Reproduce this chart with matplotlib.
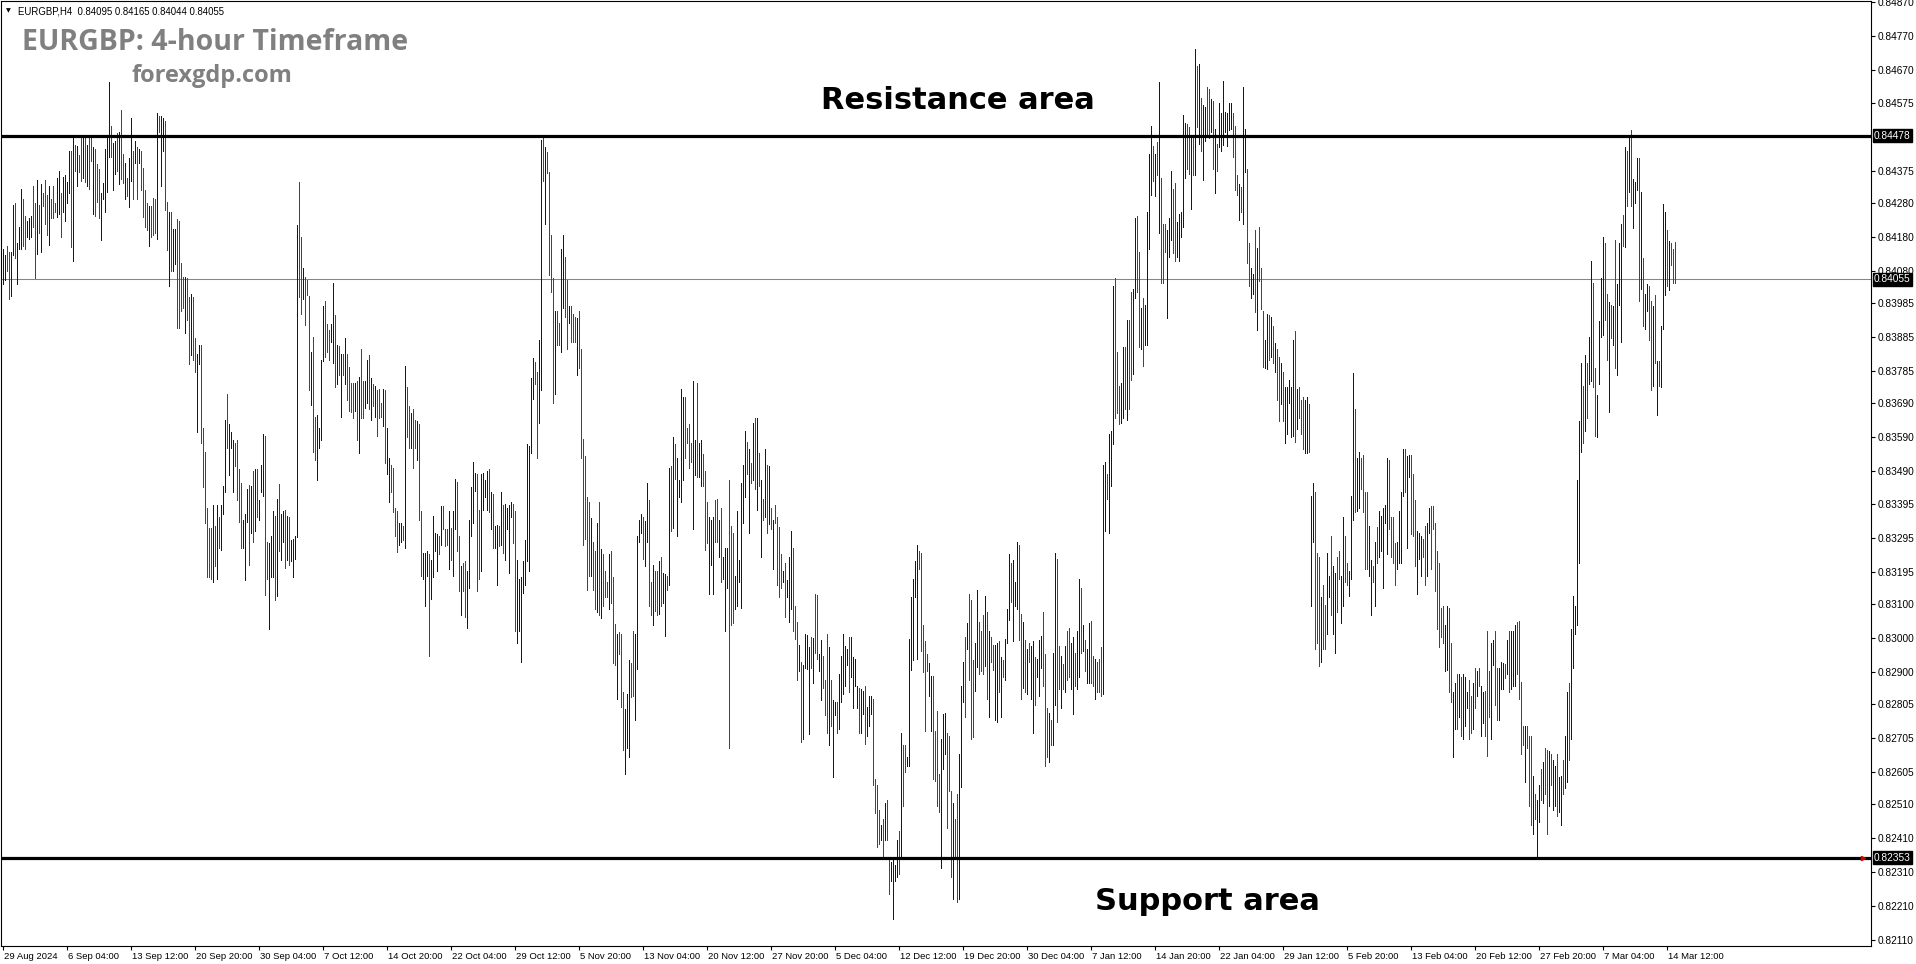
import numpy as np
import matplotlib
matplotlib.use("Agg")
import matplotlib.pyplot as plt
import matplotlib.transforms as mtransforms

# ---------------- data (prices in 1e-5 units) ----------------
bar_high = [
    # 29 Aug - early Oct
    84145,84127,84154,84136,84136,84275,84281,84163,84208,84322,
    84290,84241,84226,84235,84241,84330,84281,84347,84275,84335,
    84308,84347,84302,84330,84290,84330,84281,84353,84375,84308,
    84356,84362,84340,84434,84434,84471,84449,84447,84420,84471,
    84471,84471,84449,84476,84476,84443,84438,84393,84380,84308,
    84338,84438,84471,84635,84507,84456,84462,84485,84489,84553,
    84425,84398,84353,84411,84529,84434,84462,84443,84438,84434,
    84384,84317,84281,84272,84272,84293,84290,84544,84535,84535,
    84529,84522,84284,84253,84253,84204,84202,84232,84226,84103,
    84063,84063,84060,84004,84013,84004,83881,83836,83863,83863,
    83619,83547,83383,83323,83323,83392,83328,83392,83355,83392,
    83447,83641,83718,83628,83606,83583,83574,83583,83498,83456,
    83346,83364,83437,83450,83447,83492,83498,83498,83406,83510,
    83601,83595,83283,83280,83301,83374,83359,83410,83452,83364,
    83374,83377,83359,83355,83287,83292,83301,84214,84340,84181,
    84087,84063,84054,84005,83842,83885,83649,83655,83619,83818,
    83978,83991,83923,83905,83923,84045,83950,83863,83858,83836,
    83836,83881,83836,83796,83751,83751,83751,83755,83767,83851,
    83755,83755,83818,83833,83764,83746,83740,83728,83733,83691,
    83733,83728,83619,83528,83510,83501,83383,83374,
    # Oct - Nov
    83337,83337,83328,83800,83737,83682,83661,83673,83640,83637,
    83628,83374,83251,83251,83256,83247,83229,83359,83310,83305,
    83301,83388,83388,83319,83319,83374,83323,83374,83469,83459,
    83301,83211,83220,83225,83198,83346,83443,83519,83486,83483,
    83377,83483,83486,83465,83492,83496,83428,83423,83328,83332,
    83328,83428,83392,83395,83383,83392,83401,83395,83374,83229,
    83174,83178,83225,83287,83570,83565,83764,83824,83813,83782,
    83876,84465,84476,84443,84429,84371,84185,84058,83963,83963,
    83927,84145,84186,84121,84054,83976,83976,83954,83945,83941,
    83963,83851,83586,83534,83414,83401,83352,83283,83256,83337,
    83401,83261,83247,83196,83165,83247,83256,83178,83042,83012,
    83017,83012,82840,82790,82836,82934,82926,83021,83012,83301,
    83346,83364,83355,83343,83456,83406,83165,83214,83198,83198,
    83225,83238,83192,83189,83183,83501,83507,83592,83570,83528,
    83465,83733,83710,83710,83619,83628,83574,83755,83583,83751,
    83574,83583,83541,83492,83401,83355,83346,83355,83406,83410,
    83346,83383,83238,83265,83265,83465,83328,83310,83183,83374,
    83229,83456,83510,83610,83577,83556,83516,83631,83646,83646,
    83543,83465,83410,83556,83510,83507,83383,83346,83392,83355,
    # Nov - Jan
    83326,83247,83196,83220,83171,83238,83315,83265,83093,83048,
    82979,82930,82921,83012,83008,82972,83003,82999,83129,83126,
    82953,82994,82948,82876,83012,82972,82876,82818,82812,82812,
    82894,82948,83012,82975,82966,83003,83003,82943,82939,82858,
    82852,82849,82845,82858,82798,82830,82830,82821,82585,82567,
    82495,82450,82468,82513,82522,82350,82341,82350,82332,82404,
    82432,82721,82685,82685,82649,82997,83120,83174,83225,83274,
    83256,83251,83039,82990,82953,82926,82888,82888,82725,82785,
    82599,82703,82776,82779,82721,82712,82549,82513,82468,82540,
    82658,82858,82930,83003,83044,83129,83111,82935,82984,83142,
    83048,83021,83066,83124,83075,83021,83003,82979,82979,82984,
    82990,82943,82935,82997,83084,83247,83220,83229,83165,83283,
    83274,83069,83048,82994,82966,82984,82975,82990,82943,82939,
    82994,83006,83075,82953,82794,82779,82758,82957,83251,83232,
    82975,82948,82924,82975,83021,83030,82984,83003,82957,83021,
    83174,83147,83039,82994,82966,83044,83051,82948,82939,82930,
    82939,82972,83510,83519,83483,83601,83610,84036,84060,83842,
    83740,83751,83855,83855,83936,83936,84018,84027,84235,84241,
    # Jan - Feb
    84136,83972,84000,83981,84253,84425,84507,84447,84425,84458,
    84635,84353,84217,84217,84199,84235,84375,84320,84338,84223,
    84248,84253,84538,84516,84511,84503,84471,84471,84734,84683,
    84689,84589,84567,84562,84620,84616,84585,84580,84498,84453,
    84574,84544,84638,84547,84544,84574,84574,84544,84507,84362,
    84335,84326,84620,84498,84380,84163,84087,84072,84199,84148,
    84208,84087,83963,83876,83954,83950,83945,83918,83869,83849,
    83827,83809,83782,83737,83737,83758,83737,83876,83903,83733,
    83737,83700,83710,83700,83710,83688,83419,83456,83428,83251,
    83238,83120,83156,83098,83251,83183,83301,83211,83192,83238,
    83256,83183,83355,83301,83220,83196,83419,83779,83673,83528,
    83547,83528,83537,83428,83428,83328,83229,83211,83283,83325,
    83374,83359,83383,83392,83528,83523,83355,83355,83280,83283,
    83374,83428,83556,83556,83534,83537,83537,83483,83406,83315,
    83310,83301,83292,83328,83337,83383,83388,83388,83337,83256,
    83220,83087,83093,83039,83093,83089,82984,82840,82867,82894,
    82894,82885,82894,82885,82840,82876,82830,82867,82912,82903,
    82912,82858,82840,82845,83021,82903,82984,82994,83021,82912,
    82912,82930,82926,82924,82994,83021,83021,83021,83039,83048,
    # Feb - Mar
    83051,82870,82740,82740,82740,82712,82712,82595,82540,82522,
    82567,82613,82634,82676,82670,82667,82658,82640,82622,82658,
    82591,82595,82640,82712,82840,82867,83026,83124,83093,83465,
    83637,83809,83740,83833,83809,83885,84109,84045,83795,83715,
    83932,84060,84181,84163,84013,83987,83981,83978,84172,84042,
    84163,84217,84244,84443,84434,84480,84495,84349,84340,84413,
    84413,84313,84118,84013,84042,84036,83991,83978,84009,83814,
    83814,83918,84277,84253,84199,84168,84163,84145,84165,
]

bar_low = [
    84042,84054,84081,83996,84005,84127,84118,84042,84145,84145,
    84154,84145,84181,84175,84181,84208,84060,84130,84190,84136,
    84272,84217,84186,84157,84235,84235,84253,84239,84248,84181,
    84253,84226,84281,84308,84150,84109,84375,84330,84371,84344,
    84353,84340,84330,84322,84402,84248,84241,84284,84235,84172,
    84290,84253,84313,84416,84416,84317,84366,84375,84335,84349,
    84338,84290,84299,84268,84344,84290,84398,84290,84398,84317,
    84239,84208,84199,84154,84181,84186,84190,84175,84489,84330,
    84434,84259,84140,84036,84081,84081,84100,83912,83912,83963,
    83972,83896,83936,83805,83831,83818,83782,83606,83805,83574,
    83443,83337,83180,83180,83174,83165,83211,83174,83265,83259,
    83364,83428,83559,83479,83559,83428,83507,83406,83341,83265,
    83265,83171,83341,83214,83310,83283,83315,83355,83346,83428,
    83419,83126,83174,83026,83180,83178,83111,83124,83256,83229,
    83283,83207,83229,83214,83225,83180,83232,83296,84004,83954,
    83996,83922,84009,83728,83686,83547,83523,83465,83559,83583,
    83814,83827,83842,83818,83872,83809,83737,83746,83773,83651,
    83773,83746,83700,83669,83664,83646,83667,83583,83543,83646,
    83646,83676,83691,83673,83640,83682,83651,83595,83646,83649,
    83624,83516,83483,83401,83428,83370,83301,83252,
    83274,83283,83287,83265,83592,83559,83559,83501,83559,83523,
    83346,83183,83174,83093,83183,82948,83115,83180,83256,83196,
    83247,83274,83319,83269,83274,83202,83229,83183,83319,83256,
    83138,83066,83138,83062,83030,83147,83301,83337,83432,83138,
    83174,83196,83377,83414,83377,83370,83319,83265,83265,83156,
    83269,83274,83251,83229,83319,83192,83355,83280,83021,82984,
    83021,82930,83133,83156,83225,83198,83543,83704,83746,83528,
    83631,83728,84344,84217,84368,84067,84018,83691,83718,83863,
    83863,83842,83972,83945,83849,83927,83872,83872,83872,83773,
    83795,83528,83274,83292,83142,83183,83183,83142,83084,83075,
    83066,83060,83093,83120,83120,83084,83102,82925,82921,82821,
    82953,82798,82670,82599,82676,82649,82827,82830,82758,82908,
    83283,83310,83232,83211,83283,83093,83066,83039,83080,83066,
    83069,83093,83102,83006,83142,83156,83315,83323,83469,83301,
    83414,83401,83465,83528,83574,83501,83519,83319,83479,83474,
    83474,83447,83447,83259,83280,83129,83214,83129,83283,83283,
    83238,83165,83174,83021,83147,82676,83039,83044,83084,83093,
    83165,83089,83337,83414,83483,83310,83456,83465,83437,83377,
    83447,83238,83346,83355,83310,83334,83319,83202,83337,83156,
    83120,83147,83165,83062,83120,83048,83084,83021,82997,82876,
    82903,82694,82703,82912,82908,82718,82912,82867,82957,82939,
    82903,82816,82852,82772,82721,82685,82740,82590,82772,82721,
    82731,82812,82834,82858,82921,82840,82885,82794,82858,82794,
    82721,82721,82776,82689,82712,82740,82776,82567,82486,82386,
    82395,82404,82350,82404,82404,82247,82286,82174,82286,82296,
    82305,82355,82504,82604,82622,82622,82906,82935,83120,82939,
    83202,82961,82899,82725,82903,82830,82725,82585,82580,82504,
    82489,82323,82613,82658,82441,82549,82296,82232,82350,82223,
    82232,82562,82812,82767,82966,82876,82703,82707,82845,82915,
    82894,82903,82894,82917,82821,82767,82930,82906,82758,82754,
    82840,82767,82885,82876,82984,83053,83106,82990,83093,83084,
    82994,82821,82852,82840,82834,82930,82821,82721,82803,82885,
    82830,82912,82858,82622,82649,82636,82685,82685,82803,82754,
    82849,82794,82849,82840,82876,82885,82849,82776,82858,82849,
    82885,82957,82961,82903,82867,82867,82867,82858,82821,82840,
    82840,82830,82834,83315,83410,83310,83447,83570,83646,83661,
    83628,83631,83646,83673,83642,83673,83758,83777,84000,84018,
    83855,83849,83800,83863,83863,84145,84302,84344,84299,84362,
    84190,84045,84045,84136,83941,84121,84172,84132,84109,84121,
    84109,84181,84208,84353,84380,84366,84262,84362,84362,84502,
    84453,84434,84347,84462,84480,84471,84489,84380,84308,84375,
    84443,84434,84449,84489,84447,84495,84498,84416,84317,84302,
    84230,84253,84217,84371,84103,84036,84000,84013,83959,83905,
    84049,83967,83797,83795,83791,83818,83827,83809,83782,83700,
    83637,83688,83637,83574,83601,83691,83592,83595,83577,83615,
    83646,83601,83556,83543,83543,83547,83093,83283,82966,82984,
    82917,82930,82966,82966,83012,83120,83066,83012,82957,83075,
    83174,83044,83093,83165,83156,83124,83174,83346,83370,83374,
    83383,83437,83370,83202,83202,83183,83066,83165,83093,83220,
    83238,83256,83147,83337,83247,83319,83238,83220,83156,83202,
    83220,83220,83419,83428,83265,83474,83305,83301,83211,83129,
    83232,83183,83238,83156,83183,83310,83202,83319,83138,83026,
    82972,83003,82984,82903,82906,82840,82812,82649,82731,82731,
    82767,82712,82703,82740,82794,82703,82721,82731,82794,82830,
    82858,82712,82749,82712,82652,82767,82703,82921,82803,82758,
    82758,82849,82849,82881,82894,82840,82849,82858,82858,82894,
    82821,82658,82685,82576,82676,82504,82450,82422,82468,82355,
    82459,82522,82513,82540,82422,82504,82567,82495,82504,82477,
    82489,82450,82540,82558,82576,82640,82703,82912,83012,83039,
    83220,83547,83574,83610,83646,83746,83755,83737,83595,83592,
    83746,83885,83891,83936,83818,83664,83881,83863,83795,83773,
    83981,83872,84154,84150,84272,84313,84272,84205,84281,84317,
    83991,84027,83918,83909,83963,83878,83728,83742,83809,83655,
    83740,83737,83909,84009,84036,84023,84096,84045,84044,
]

# B = bullish bar (blue), R = bearish bar (red)
bar_dir = (
    "BBRRBBRBBB" "RRBBBRRBRB" "RRRBRRRBBR" "BBBBRBRBRR" "BRBRRBRRRB"
    "BBBBRBBRBR" "RBRBBRBRBR" "RRRBRRRBRB" "BRRBRBBRRR" "RBRRBRRBBR"
    "RRRRRBRBRB" "BBRBBBRRRR" "BBBRBRBRBB" "BRRBBBRBRB" "BRBRBBBBRR"
    "BRRRBRRBBB" "BRRRBBRBRB" "RBRRRRBRBR" "RBBRBRBRRR" "BRBBRRRR"
    "BBRBRRBRRB" "RRBBBRBBBB" "RBRRRBRBBR" "RBRRBBBBBR" "RBBBBRBRBB"
    "RBRBBBBRRB" "BBBBBBBBRR" "BBRBRRRRBR" "RBBRRBRRRB" "RRRRRRBRRB"
    "RBRRRBRRRB" "RRRBBBRRBB" "BBRBBRRBRR" "BRBBRBRBRB" "BBBRRRRBBR"
    "BBRRRBBBRR" "BRBBBRRRBB" "BBBBRBRBRB" "RBRBRBRBRR"
    "RRBRBBBRRR" "BRBBBBRBRR" "BBRRRBRBBR" "BBBBBRBBBB" "RBBRBBBRRR"
    "RBRBRRBBBB" "RBRRBBBBBB" "RRRRRBBRRR" "RBBBRRRBRR" "BBBRBRRRBB"
    "RRRBRBRRBB" "RBRBBBRBBB" "RRBRBRBBRB" "BBRRRBRBBR" "RBRBRRBBRB"
    "BRBRBBRRBR" "RRBBRBBBRR" "RBBRBRRBBR"
    "RBRBBBBRBR" "BRRRBBBRRB" "BBBBRRBRBR" "BRBBRRBRBR" "BBBBBBBRRR"
    "BRBBRRBBRB" "RRRBBRBRBR" "RBRBBBBBRB" "RRRBBRBBRR" "RBRRBBRBBR"
    "RBBRRBBBRB" "BRRRRBBRBR" "BBBBBRRRRB" "BBBRBBRRRB" "BBRRBBRRRR"
    "RRRBBRRBBR" "BRBBBRRBRB" "RBBRRRBBRR" "BBBRBRBBBR"
    "RRRBRRRBRB" "BRBRRBRBBR" "BBRBBRBBBB" "BBRBRBBRRB" "BBBRRBRBRB"
    "BBRBRBRBBB" "RBRBBRRBRB" "RBBBRBRRR"
)

date_labels = [
    "29 Aug 2024", "6 Sep 04:00", "13 Sep 12:00", "20 Sep 20:00", "30 Sep 04:00",
    "7 Oct 12:00", "14 Oct 20:00", "22 Oct 04:00", "29 Oct 12:00", "5 Nov 20:00",
    "13 Nov 04:00", "20 Nov 12:00", "27 Nov 20:00", "5 Dec 04:00", "12 Dec 12:00",
    "19 Dec 20:00", "30 Dec 04:00", "7 Jan 12:00", "14 Jan 20:00", "22 Jan 04:00",
    "29 Jan 12:00", "5 Feb 20:00", "13 Feb 04:00", "20 Feb 12:00", "27 Feb 20:00",
    "7 Mar 04:00", "14 Mar 12:00",
]
label_step = 32  # bars between date labels

price_ticks = [0.84870, 0.84770, 0.84670, 0.84575, 0.84375, 0.84280, 0.84180, 0.84080,
               0.83985, 0.83885, 0.83785, 0.83690, 0.83590, 0.83490, 0.83395, 0.83295,
               0.83195, 0.83100, 0.83000, 0.82900, 0.82805, 0.82705, 0.82605, 0.82510,
               0.82410, 0.82310, 0.82210, 0.82110]

resistance = 0.84478
support = 0.82353
last_price = 0.84055
header = "EURGBP,H4  0.84095 0.84165 0.84044 0.84055"

# ---------------- figure ----------------
assert len(bar_high) == len(bar_low) == len(bar_dir), (len(bar_high), len(bar_low), len(bar_dir))

W, H = 1916, 964
fig = plt.figure(figsize=(W / 100, H / 100), dpi=100)
fig.patch.set_facecolor("white")

ax_l, ax_r, ax_t, ax_b = 1, 1871, 1, 946
ax = fig.add_axes([ax_l / W, 1 - ax_b / H, (ax_r - ax_l) / W, (ax_b - ax_t) / H])
ax.set_facecolor("white")

n = len(bar_high)
x = np.arange(n)
hi = np.array(bar_high) / 1e5
lo = np.array(bar_low) / 1e5
cols = ["#0000D2" if d == "B" else "#E80000" for d in bar_dir]
ax.vlines(x, lo, hi, colors=cols, linewidth=0.7, antialiased=False)

ax.set_xlim(-1, 934)
ax.set_ylim(0.820935, 0.84874)

# horizontal levels
ax.axhline(last_price, color="#7A8899", linewidth=0.75, zorder=1)
ax.axhline(resistance, color="black", linewidth=2.3, zorder=3)
ax.axhline(support, color="black", linewidth=2.3, zorder=3)
ax.plot([930], [support], marker=">", color="#D00000", markersize=3, zorder=4)

# spines
for s in ax.spines.values():
    s.set_color("black")
    s.set_linewidth(0.8)

tick_font = dict(family="Liberation Sans", size=7.3)
date_font = dict(family="Liberation Sans", size=6.8)

# right price axis
ax.yaxis.tick_right()
ax.set_yticks(price_ticks)
ax.set_yticklabels([f"{p:.5f}" for p in price_ticks], fontdict=tick_font)
ax.tick_params(axis="y", direction="out", length=3, width=0.8, pad=2, colors="black")

ytrans = mtransforms.blended_transform_factory(ax.transAxes, ax.transData)
for p in (resistance, last_price, support):
    ax.text(1.0 + 3 / 1870, p, f"{p:.5f}", transform=ytrans, ha="left", va="center",
            color="white", fontdict=tick_font,
            bbox=dict(facecolor="black", edgecolor="black", pad=1.0), zorder=10,
            clip_on=False)

# bottom date axis
xt = [i * label_step for i in range(len(date_labels))]
ax.set_xticks(xt)
ax.set_xticklabels(date_labels, fontdict=date_font)
ax.tick_params(axis="x", direction="out", length=3, width=0.8, pad=1.5, colors="black")
offset = mtransforms.ScaledTranslation(1 / 100, 0, fig.dpi_scale_trans)
for lab in ax.get_xticklabels():
    lab.set_horizontalalignment("left")
    lab.set_transform(lab.get_transform() + offset)


def fx(px):
    return px / W


def fy(py):
    return 1 - py / H


# header line
fig.text(fx(6), fy(11), "\u25BC", fontsize=4.5, family="DejaVu Sans", va="center", ha="left")
fig.text(fx(18), fy(11), header, fontsize=6.9, family="Liberation Sans", va="center", ha="left")

# titles
fig.text(fx(22), fy(50), "EURGBP: 4-hour Timeframe", fontsize=20.5, family="Open Sans",
         fontweight="bold", color="#808080", ha="left", va="baseline")
fig.text(fx(131), fy(82), "forexgdp.com", fontsize=17, family="Open Sans",
         fontweight="bold", color="#808080", ha="left", va="baseline")

fig.text(fx(958), fy(109), "Resistance area", fontsize=22, family="DejaVu Sans",
         fontweight="bold", color="black", ha="center", va="baseline")
fig.text(fx(1207), fy(910), "Support area", fontsize=22, family="DejaVu Sans",
         fontweight="bold", color="black", ha="center", va="baseline")

fig.savefig("out.png", dpi=100, facecolor="white")
